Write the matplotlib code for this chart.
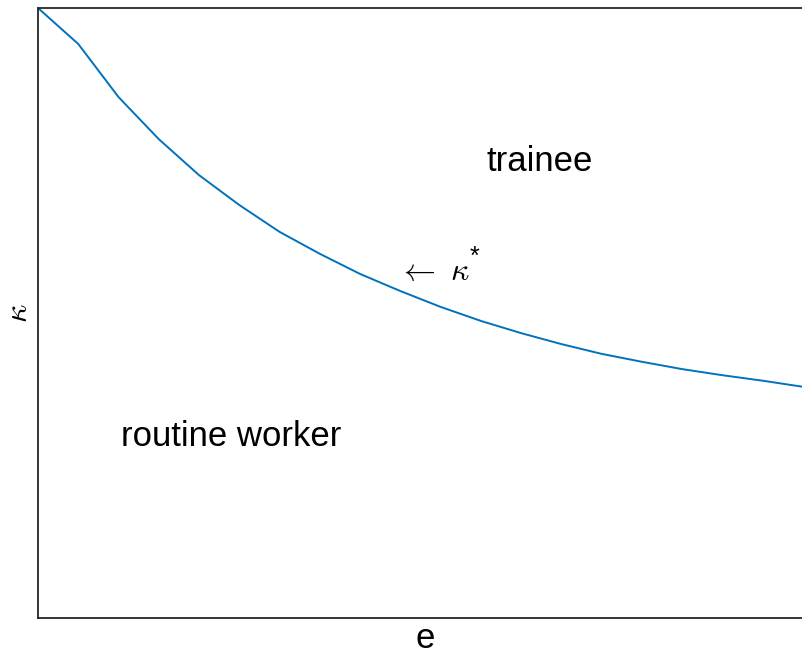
import matplotlib
matplotlib.use("Agg")
import matplotlib.pyplot as plt

plt.rcParams['font.family'] = ['Liberation Sans', 'DejaVu Sans']
plt.rcParams['mathtext.fontset'] = 'cm'

# boundary kappa*(e) (normalised axis units)
e = list(range(20))
kappa_star = [1.000, 0.941, 0.854, 0.785, 0.726, 0.677, 0.633, 0.597, 0.564, 0.536,
              0.510, 0.487, 0.467, 0.449, 0.433, 0.420, 0.408, 0.398, 0.389, 0.379]

fig = plt.figure(figsize=(8.03, 6.55), dpi=100)
ax = fig.add_axes([38/803, 37/655, 765/803, 610/655])

ax.plot(e, kappa_star, color='#0072BD', lw=1.4)

ax.set_xlim(0, 19)
ax.set_ylim(0, 1)
ax.set_xticks([])
ax.set_yticks([])
for s in ax.spines.values():
    s.set_color('#262626')
    s.set_linewidth(1.3)

ax.text(12.47, 0.748, 'trainee', fontsize=25, ha='center', va='center')
ax.text(2.06, 0.297, 'routine worker', fontsize=25, ha='left', va='center')
ax.text(8.95, 0.567, r'$\leftarrow\ \kappa$', fontsize=23, ha='left', va='center')
ax.text(10.85, 0.580, '*', fontsize=18, ha='center', va='baseline')

ax.set_xlabel('e', fontsize=25)
ax.xaxis.set_label_coords(387/765, -4/610)
ax.set_ylabel(r'$\kappa$', fontsize=23, labelpad=3)

fig.savefig('out.png', dpi=100)
